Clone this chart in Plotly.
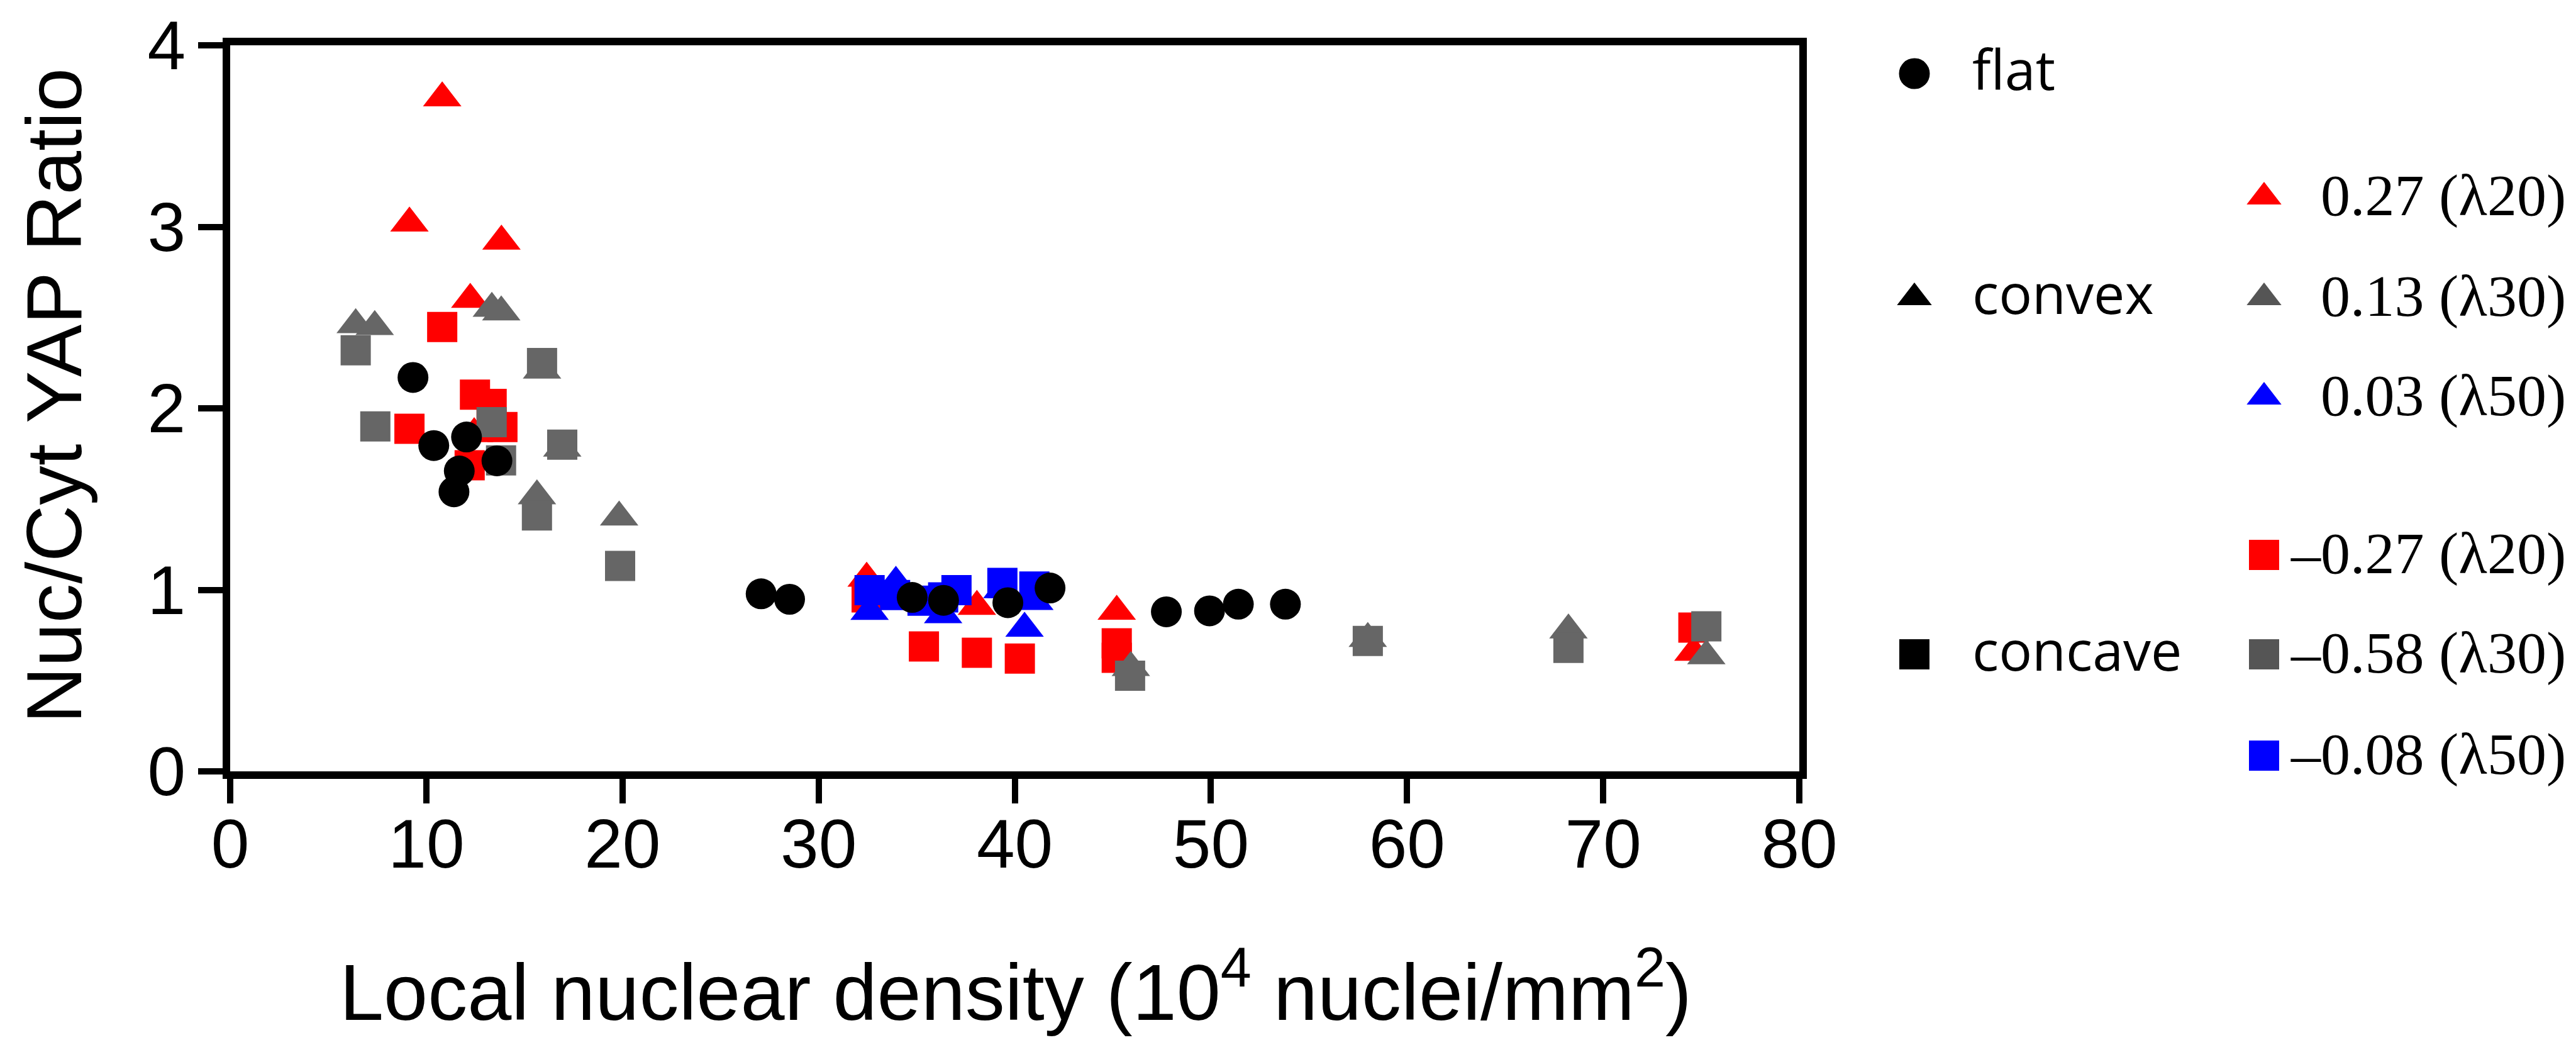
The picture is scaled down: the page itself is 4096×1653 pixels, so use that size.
import plotly.graph_objects as go

# Local nuclear density (10^4 nuclei/mm^2) vs. nuclear/cytoplasmic YAP ratio
# flat substrate
flat_x = [9.32, 10.38, 12.05, 11.68, 11.41, 13.60, 27.07, 28.52, 34.77, 36.37,
          39.65, 41.80, 47.73, 49.93, 51.40, 53.80]
flat_y = [2.170, 1.795, 1.842, 1.655, 1.540, 1.711, 0.978, 0.948, 0.958, 0.942,
          0.929, 1.010, 0.879, 0.884, 0.921, 0.921]

# convex, curvature 0.27 (lambda 20)
convex_l20_x = [10.81, 9.14, 13.83, 12.24, 12.44, 32.45, 38.07, 45.20, 74.60]
convex_l20_y = [3.710, 3.020, 2.920, 2.600, 1.860, 1.063, 0.908, 0.881, 0.655]

# convex, curvature 0.13 (lambda 30)
convex_l30_x = [6.40, 7.37, 13.34, 13.82, 15.90, 16.93, 15.64, 19.83, 45.92,
                58.00, 68.23, 75.26]
convex_l30_y = [2.460, 2.450, 2.550, 2.530, 2.210, 1.780, 1.517, 1.400, 0.571,
                0.731, 0.778, 0.636]

# convex, curvature 0.03 (lambda 50)
convex_l50_x = [32.60, 33.94, 36.35, 39.37, 40.50, 41.00]
convex_l50_y = [0.880, 1.041, 0.862, 1.000, 0.788, 0.935]

# concave, curvature -0.27 (lambda 20)
concave_l20_x = [10.81, 9.14, 12.48, 13.33, 13.88, 12.21, 32.45, 35.37, 38.07,
                 40.26, 45.20, 45.20, 74.60]
concave_l20_y = [2.448, 1.887, 2.075, 2.024, 1.897, 1.686, 0.958, 0.688, 0.653,
                 0.621, 0.705, 0.626, 0.792]

# concave, curvature -0.58 (lambda 30)
concave_l30_x = [6.40, 7.40, 15.90, 13.33, 13.81, 16.93, 15.64, 19.88, 45.88,
                 58.00, 68.23, 75.26]
concave_l30_y = [2.320, 1.900, 2.250, 1.924, 1.713, 1.800, 1.410, 1.132, 0.527,
                 0.718, 0.680, 0.799]

# concave, curvature -0.08 (lambda 50)
concave_l50_x = [32.60, 33.90, 35.30, 36.35, 37.03, 39.37, 41.00]
concave_l50_y = [0.998, 0.971, 0.940, 0.958, 0.998, 1.038, 1.018]

x_ticks = [0, 10, 20, 30, 40, 50, 60, 70, 80]
y_ticks = [0, 1, 2, 3, 4]

shape_labels = ["flat", "convex", "concave"]
curvature_labels = ["0.27 (λ20)", "0.13 (λ30)", "0.03 (λ50)",
                    "–0.27 (λ20)", "–0.58 (λ30)", "–0.08 (λ50)"]

# ---- styling ----
W, H = 4096, 1653
RED, GREY, BLUE, BLACK = "#ff0000", "#666666", "#0000ff", "#000000"
LEG_GREY = "#555555"
SANS = "Liberation Sans, Arial, sans-serif"
LEG_SANS = "Open Sans, Noto Sans, sans-serif"
SERIF = "Liberation Serif, Times New Roman, serif"
SQ, CI, TRI = 48, 49, 53
LEG_TRI = 48


def fx(p):
    return p / W


def fy(p):
    return 1 - p / H


fig = go.Figure()

# drawing order: red, grey, blue, then flat circles on top
series = [
    (convex_l20_x, convex_l20_y, "triangle-up", RED, TRI),
    (concave_l20_x, concave_l20_y, "square", RED, SQ),
    (convex_l30_x, convex_l30_y, "triangle-up", GREY, TRI),
    (concave_l30_x, concave_l30_y, "square", GREY, SQ),
    (convex_l50_x, convex_l50_y, "triangle-up", BLUE, TRI),
    (concave_l50_x, concave_l50_y, "square", BLUE, SQ),
    (flat_x, flat_y, "circle", BLACK, CI),
]
for xs, ys, sym, col, size in series:
    fig.add_trace(go.Scatter(
        x=xs, y=ys, mode="markers", showlegend=False, cliponaxis=False,
        marker=dict(symbol=sym, color=col, size=size, line=dict(width=0)),
        xaxis="x", yaxis="y"))

# ---- key, drawn on a hidden overlay axis in pixel units ----
left_rows = [117, 473, 1040]
left_symbols = ["circle", "triangle-up", "square"]
left_sizes = [CI, LEG_TRI, SQ]
right_rows = [313, 473, 631, 882, 1040, 1201]
right_symbols = ["triangle-up"] * 3 + ["square"] * 3
right_colors = [RED, LEG_GREY, BLUE, RED, LEG_GREY, BLUE]
right_sizes = [LEG_TRI] * 3 + [SQ] * 3

LEFT_MX, LEFT_TX = 3044, 3134
RIGHT_MX, RIGHT_TX = 3600, 4082

for row, sym, size in zip(left_rows, left_symbols, left_sizes):
    fig.add_trace(go.Scatter(
        x=[LEFT_MX], y=[row], mode="markers", showlegend=False,
        marker=dict(symbol=sym, color=BLACK, size=size, line=dict(width=0)),
        xaxis="x2", yaxis="y2", hoverinfo="skip"))
for row, sym, col, size in zip(right_rows, right_symbols, right_colors, right_sizes):
    fig.add_trace(go.Scatter(
        x=[RIGHT_MX], y=[row], mode="markers", showlegend=False,
        marker=dict(symbol=sym, color=col, size=size, line=dict(width=0)),
        xaxis="x2", yaxis="y2", hoverinfo="skip"))

annotations = []
for row, label in zip(left_rows, shape_labels):
    annotations.append(dict(
        x=LEFT_TX, y=row - 8, xref="x2", yref="y2", text=label,
        showarrow=False, xanchor="left", yanchor="middle",
        font=dict(family=LEG_SANS, size=88, color=BLACK)))
for row, label in zip(right_rows, curvature_labels):
    annotations.append(dict(
        x=RIGHT_TX, y=row - 3, xref="x2", yref="y2", text=label,
        showarrow=False, xanchor="right", yanchor="middle",
        font=dict(family=SERIF, size=94, color=BLACK)))

# axis titles
annotations.append(dict(
    x=fx(86), y=fy(629), xref="paper", yref="paper",
    text="Nuc/Cyt YAP Ratio", textangle=-90, showarrow=False,
    xanchor="center", yanchor="middle",
    font=dict(family=SANS, size=125, color=BLACK)))
annotations.append(dict(
    x=fx(1615), y=fy(1650), xref="paper", yref="paper",
    text="Local nuclear density (10<sup>4</sup> nuclei/mm<sup>2</sup>)",
    showarrow=False, xanchor="center", yanchor="bottom",
    font=dict(family=SANS, size=126, color=BLACK)))

axis_common = dict(
    showgrid=False, zeroline=False, showline=True, linewidth=12,
    linecolor=BLACK, mirror=True, ticks="outside", ticklen=39,
    tickwidth=10, tickcolor=BLACK, automargin=False,
    tickfont=dict(family=SANS, size=109, color=BLACK), fixedrange=True)

fig.update_layout(
    width=W, height=H,
    margin=dict(l=0, r=0, t=0, b=0, autoexpand=False),
    paper_bgcolor="white", plot_bgcolor="white",
    showlegend=False,
    xaxis=dict(domain=[fx(366), fx(2861)], range=[0, 80], anchor="y",
               tickvals=x_ticks, ticktext=[str(v) for v in x_ticks],
               ticklabelstandoff=-29, **axis_common),
    yaxis=dict(domain=[fy(1226), fy(72)], range=[0, 4], anchor="x",
               tickvals=y_ticks, ticktext=[str(v) for v in y_ticks],
               ticklabelstandoff=-2, **axis_common),
    xaxis2=dict(domain=[0.72, 1.0], range=[0.72 * W, W], anchor="y2",
                visible=False, fixedrange=True, automargin=False),
    yaxis2=dict(domain=[0.0, 1.0], range=[H, 0], anchor="x2",
                visible=False, fixedrange=True, automargin=False),
    annotations=annotations,
)

fig.write_html("out.html")
